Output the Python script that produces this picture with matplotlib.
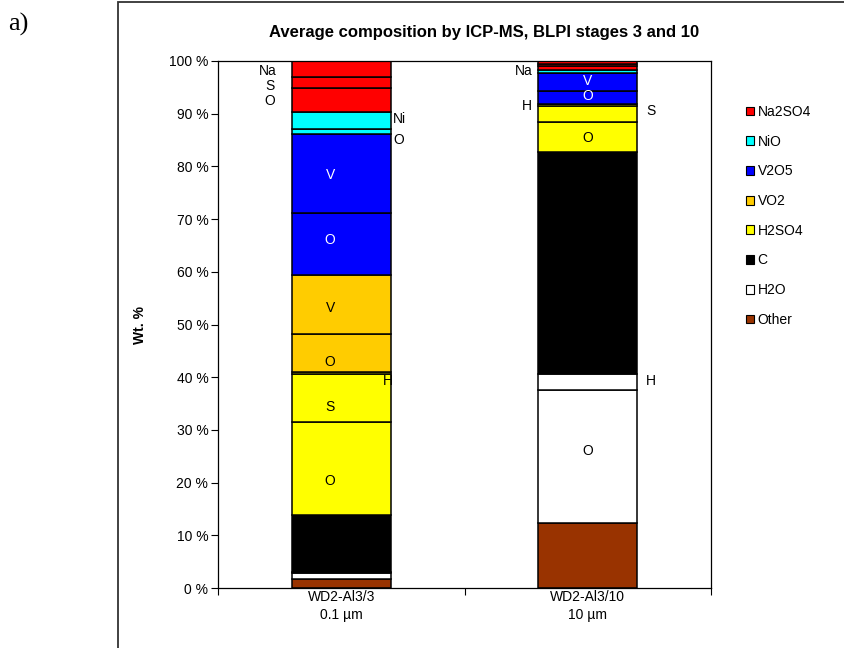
import numpy as np
import matplotlib
matplotlib.use("Agg")
import matplotlib.pyplot as plt
from matplotlib.patches import Patch, Rectangle
from matplotlib.ticker import FuncFormatter

plt.rcParams['font.family'] = ['Liberation Sans', 'DejaVu Sans']

samples = ["WD2-Al3/3\n0.1 µm", "WD2-Al3/10\n10 µm"]
compounds = ["Na2SO4", "NiO", "V2O5", "VO2", "H2SO4", "C", "H2O", "Other"]
colors = ["#FF0000", "#00FFFF", "#0000FF", "#FFCC00", "#FFFF00", "#000000", "#FFFFFF", "#993300"]

# wt.% per element, stacked bottom -> top within each compound
other = [1.71, 12.4]
h2o_o = [1.13, 25.1]
h2o_h = [0.14, 3.1]
c = [10.93, 42.1]
h2so4_o = [17.65, 5.8]
h2so4_s = [9.05, 2.95]
h2so4_h = [0.43, 0.3]
vo2_o = [7.1, 0.0]
vo2_v = [11.25, 0.0]
v2o5_o = [11.82, 2.6]
v2o5_v = [14.94, 3.3]
nio_o = [0.89, 0.12]
nio_ni = [3.34, 0.46]
na2so4_o = [4.44, 0.78]
na2so4_s = [2.14, 0.4]
na2so4_na = [3.04, 0.59]

# (compound index, values) in stacking order
stack = [
    (7, other),
    (6, h2o_o), (6, h2o_h),
    (5, c),
    (4, h2so4_o), (4, h2so4_s), (4, h2so4_h),
    (3, vo2_o), (3, vo2_v),
    (2, v2o5_o), (2, v2o5_v),
    (1, nio_o), (1, nio_ni),
    (0, na2so4_o), (0, na2so4_s), (0, na2so4_na),
]

# element labels: text, x (category units), y (wt.%), colour
labels = [
    ("Na", -0.30, 98.1, "k"), ("S", -0.29, 95.3, "k"), ("O", -0.29, 92.4, "k"),
    ("Ni", 0.235, 89.0, "k"), ("O", 0.235, 85.0, "k"),
    ("V", -0.045, 78.4, "w"), ("O", -0.045, 66.0, "w"),
    ("V", -0.045, 53.1, "k"), ("O", -0.045, 42.9, "k"),
    ("H", 0.19, 39.3, "k"), ("S", -0.045, 34.3, "k"), ("O", -0.045, 20.3, "k"),
    ("Na", 0.74, 98.1, "k"), ("V", 1.0, 96.2, "w"), ("O", 1.0, 93.4, "w"),
    ("H", 0.755, 91.5, "k"), ("S", 1.255, 90.5, "k"), ("O", 1.0, 85.4, "k"),
    ("H", 1.255, 39.3, "k"), ("O", 1.0, 26.0, "k"),
]

fig = plt.figure(figsize=(8.44, 6.48), dpi=100)
ax = fig.add_axes([218/844, 60/648, (711-218)/844, (588-61)/648])

x = np.arange(len(samples))
bottom = np.zeros(len(samples))
for ci, vals in stack:
    vals = np.array(vals)
    ax.bar(x, vals, width=0.4, bottom=bottom, color=colors[ci],
           edgecolor="black", linewidth=1.1, zorder=2)
    bottom += vals

for t, lx, ly, col in labels:
    ax.text(lx, ly, t, color=col, fontsize=10, ha="center", va="center", zorder=3)

ax.set_xlim(-0.5, 1.5)
ax.set_ylim(0, 100)
ax.set_yticks(np.arange(0, 101, 10))
ax.yaxis.set_major_formatter(FuncFormatter(lambda v, p: f"{v:.0f} %"))
ax.tick_params(axis="y", labelsize=10, length=5, width=0.8, direction="out", pad=2)
ax.set_xticks(x)
ax.set_xticklabels(samples, fontsize=10, linespacing=1.35)
ax.tick_params(axis="x", length=0, pad=1.5)
ax.set_xticks([-0.5, 0.5, 1.5], minor=True)
ax.tick_params(axis="x", which="minor", length=5, width=0.8, direction="out")
for s in ax.spines.values():
    s.set_linewidth(0.9)

fig.text(140/844, 1 - 325/648, "Wt. %", fontsize=10, fontweight="bold",
         rotation=90, ha="center", va="center")
fig.text(484/844, 1 - 33/648, "Average composition by ICP-MS, BLPI stages 3 and 10",
         fontsize=12, fontweight="bold", ha="center", va="center")

handles = [Patch(facecolor=col, edgecolor="black", linewidth=0.8) for col in colors]
fig.legend(handles, compounds, loc="upper left", bbox_to_anchor=(739/844, 1 - 98/648),
           frameon=False, fontsize=10, handlelength=0.6, handleheight=0.6,
           handletextpad=0.25, labelspacing=1.13, borderpad=0)

fig.patches.append(Rectangle((118/844, -0.1), 1.0, 1.1 - 2/648, transform=fig.transFigure,
                             fill=False, edgecolor="#333333", linewidth=1.3))
fig.text(8/844, 1 - 24/648, "a)", fontsize=19, family="Liberation Serif", va="center")

fig.savefig("out.png", dpi=100)
